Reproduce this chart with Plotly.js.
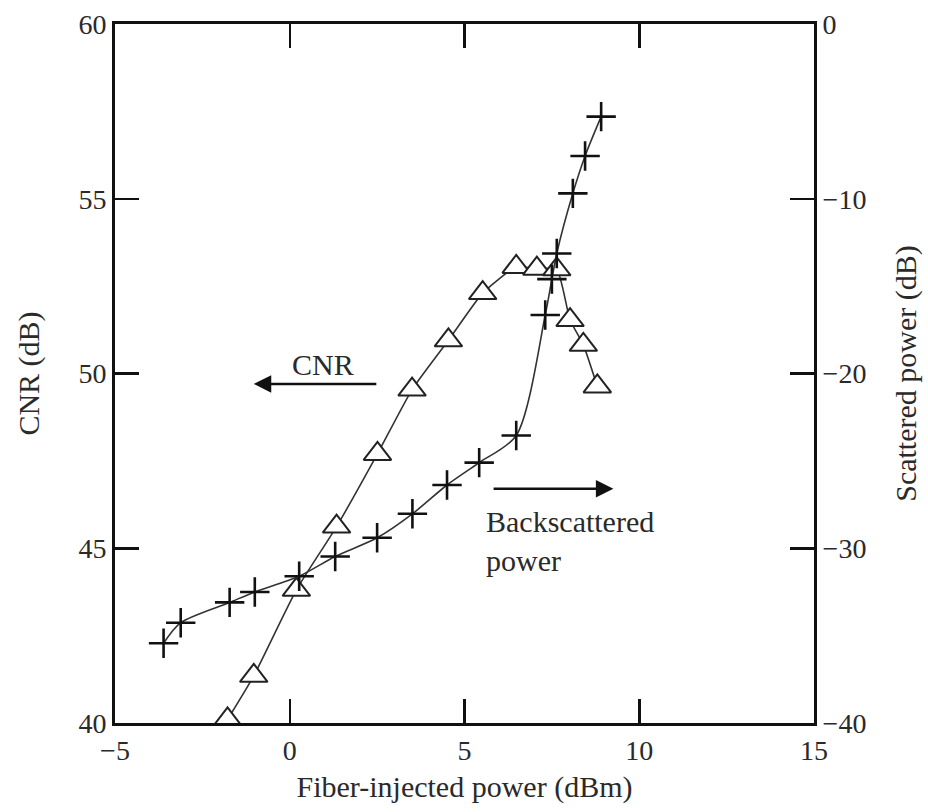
<!DOCTYPE html>
<html>
<head>
<meta charset="utf-8">
<script src="https://cdn.plot.ly/plotly-3.0.1.min.js"></script>
<style>html,body{margin:0;padding:0;background:#fff;}#chart{width:928px;height:812px;}</style>
</head>
<body>
<div id="chart"></div>
<script>
// CNR (left axis) vs fiber-injected power
const cnrPower = [-1.78, -1.03, 0.19, 1.34, 2.51, 3.5, 4.54, 5.52, 6.48, 7.07, 7.64, 8.02, 8.4, 8.8];
const cnrValues = [40.1, 41.35, 43.81, 45.62, 47.7, 49.54, 50.95, 52.3, 53.05, 53.0, 52.98, 51.53, 50.82, 49.63];

// Backscattered power (right axis) vs fiber-injected power
const bsPower = [-3.61, -3.12, -1.72, -1.0, 0.27, 1.3, 2.5, 3.51, 4.5, 5.42, 6.48, 7.31, 7.5, 7.64, 8.1, 8.45, 8.91];
const bsValues = [-35.44, -34.26, -33.1, -32.5, -31.6, -30.47, -29.4, -28.03, -26.38, -25.1, -23.55, -16.65, -14.6, -13.13, -9.69, -7.55, -5.3];

const xTicks = [-5, 0, 5, 10, 15];
const yTicks = [40, 45, 50, 55, 60];
const y2Ticks = [-40, -30, -20, -10, 0];

const FONT = 'Liberation Serif, Times New Roman, serif';
const TXT = '#2a2a2a';

const traces = [
  {
    x: bsPower, y: bsValues, yaxis: 'y2', type: 'scatter', mode: 'lines+markers',
    name: 'Backscattered power',
    line: {color: '#333', width: 1.6, shape: 'spline', smoothing: 0.8},
    marker: {symbol: 'cross-thin', size: 21, line: {color: '#111', width: 2.6}}
  },
  {
    x: cnrPower, y: cnrValues, type: 'scatter', mode: 'lines+markers',
    name: 'CNR',
    line: {color: '#333', width: 1.6, shape: 'spline', smoothing: 0.5},
    marker: {symbol: 'triangle-up', size: 24, color: '#fff', line: {color: '#222', width: 2}}
  }
];

const layout = {
  width: 928, height: 812,
  margin: {l: 115, r: 114, t: 24, b: 89},
  paper_bgcolor: '#fff', plot_bgcolor: '#fff',
  showlegend: false,
  font: {family: FONT, color: TXT, size: 27},
  xaxis: {
    range: [-5, 15], tickvals: xTicks, ticktext: xTicks.map(v => v < 0 ? '\u2212' + Math.abs(v) : String(v)),
    ticks: 'inside', ticklen: 24, tickwidth: 2.5, tickcolor: '#111',
    showline: true, linecolor: '#111', linewidth: 3, mirror: 'ticks',
    showgrid: false, zeroline: false,
    tickfont: {family: FONT, size: 28, color: TXT},
    title: {text: 'Fiber-injected power (dBm)', font: {family: FONT, size: 30, color: TXT}, standoff: 12}
  },
  yaxis: {
    range: [40, 60], tickvals: yTicks,
    ticks: 'inside', ticklen: 24, tickwidth: 2.5, tickcolor: '#111',
    showline: true, linecolor: '#111', linewidth: 3,
    showgrid: false, zeroline: false,
    tickfont: {family: FONT, size: 28, color: TXT},
    title: {text: 'CNR (dB)', font: {family: FONT, size: 30, color: TXT}, standoff: 30}
  },
  yaxis2: {
    range: [-40, 0], tickvals: y2Ticks, ticktext: y2Ticks.map(v => v < 0 ? '\u2212' + Math.abs(v) : String(v)),
    overlaying: 'y', side: 'right',
    ticks: 'inside', ticklen: 24, tickwidth: 2.5, tickcolor: '#111',
    showline: true, linecolor: '#111', linewidth: 3,
    showgrid: false, zeroline: false,
    tickfont: {family: FONT, size: 28, color: TXT},
    title: {text: 'Scattered power (dB)', font: {family: FONT, size: 30, color: TXT}, standoff: 30}
  },
  annotations: [
    {x: -1.03, y: 49.7, ax: 2.52, ay: 49.7, xref: 'x', yref: 'y', axref: 'x', ayref: 'y',
     text: '', showarrow: true, arrowhead: 2, arrowsize: 1.4, arrowwidth: 2.5, arrowcolor: '#111'},
    {x: 0.95, y: 50.25, xref: 'x', yref: 'y', text: 'CNR', showarrow: false,
     font: {family: FONT, size: 30, color: TXT}},
    {x: 9.26, y: 46.7, ax: 5.79, ay: 46.7, xref: 'x', yref: 'y', axref: 'x', ayref: 'y',
     text: '', showarrow: true, arrowhead: 2, arrowsize: 1.4, arrowwidth: 2.5, arrowcolor: '#111'},
    {x: 5.55, y: 45.2, xref: 'x', yref: 'y', text: 'Backscattered<br>power', showarrow: false,
     xanchor: 'left', align: 'left', font: {family: FONT, size: 30, color: TXT}}
  ]
};

Plotly.newPlot('chart', traces, layout, {displayModeBar: false, staticPlot: true});
</script>
</body>
</html>
